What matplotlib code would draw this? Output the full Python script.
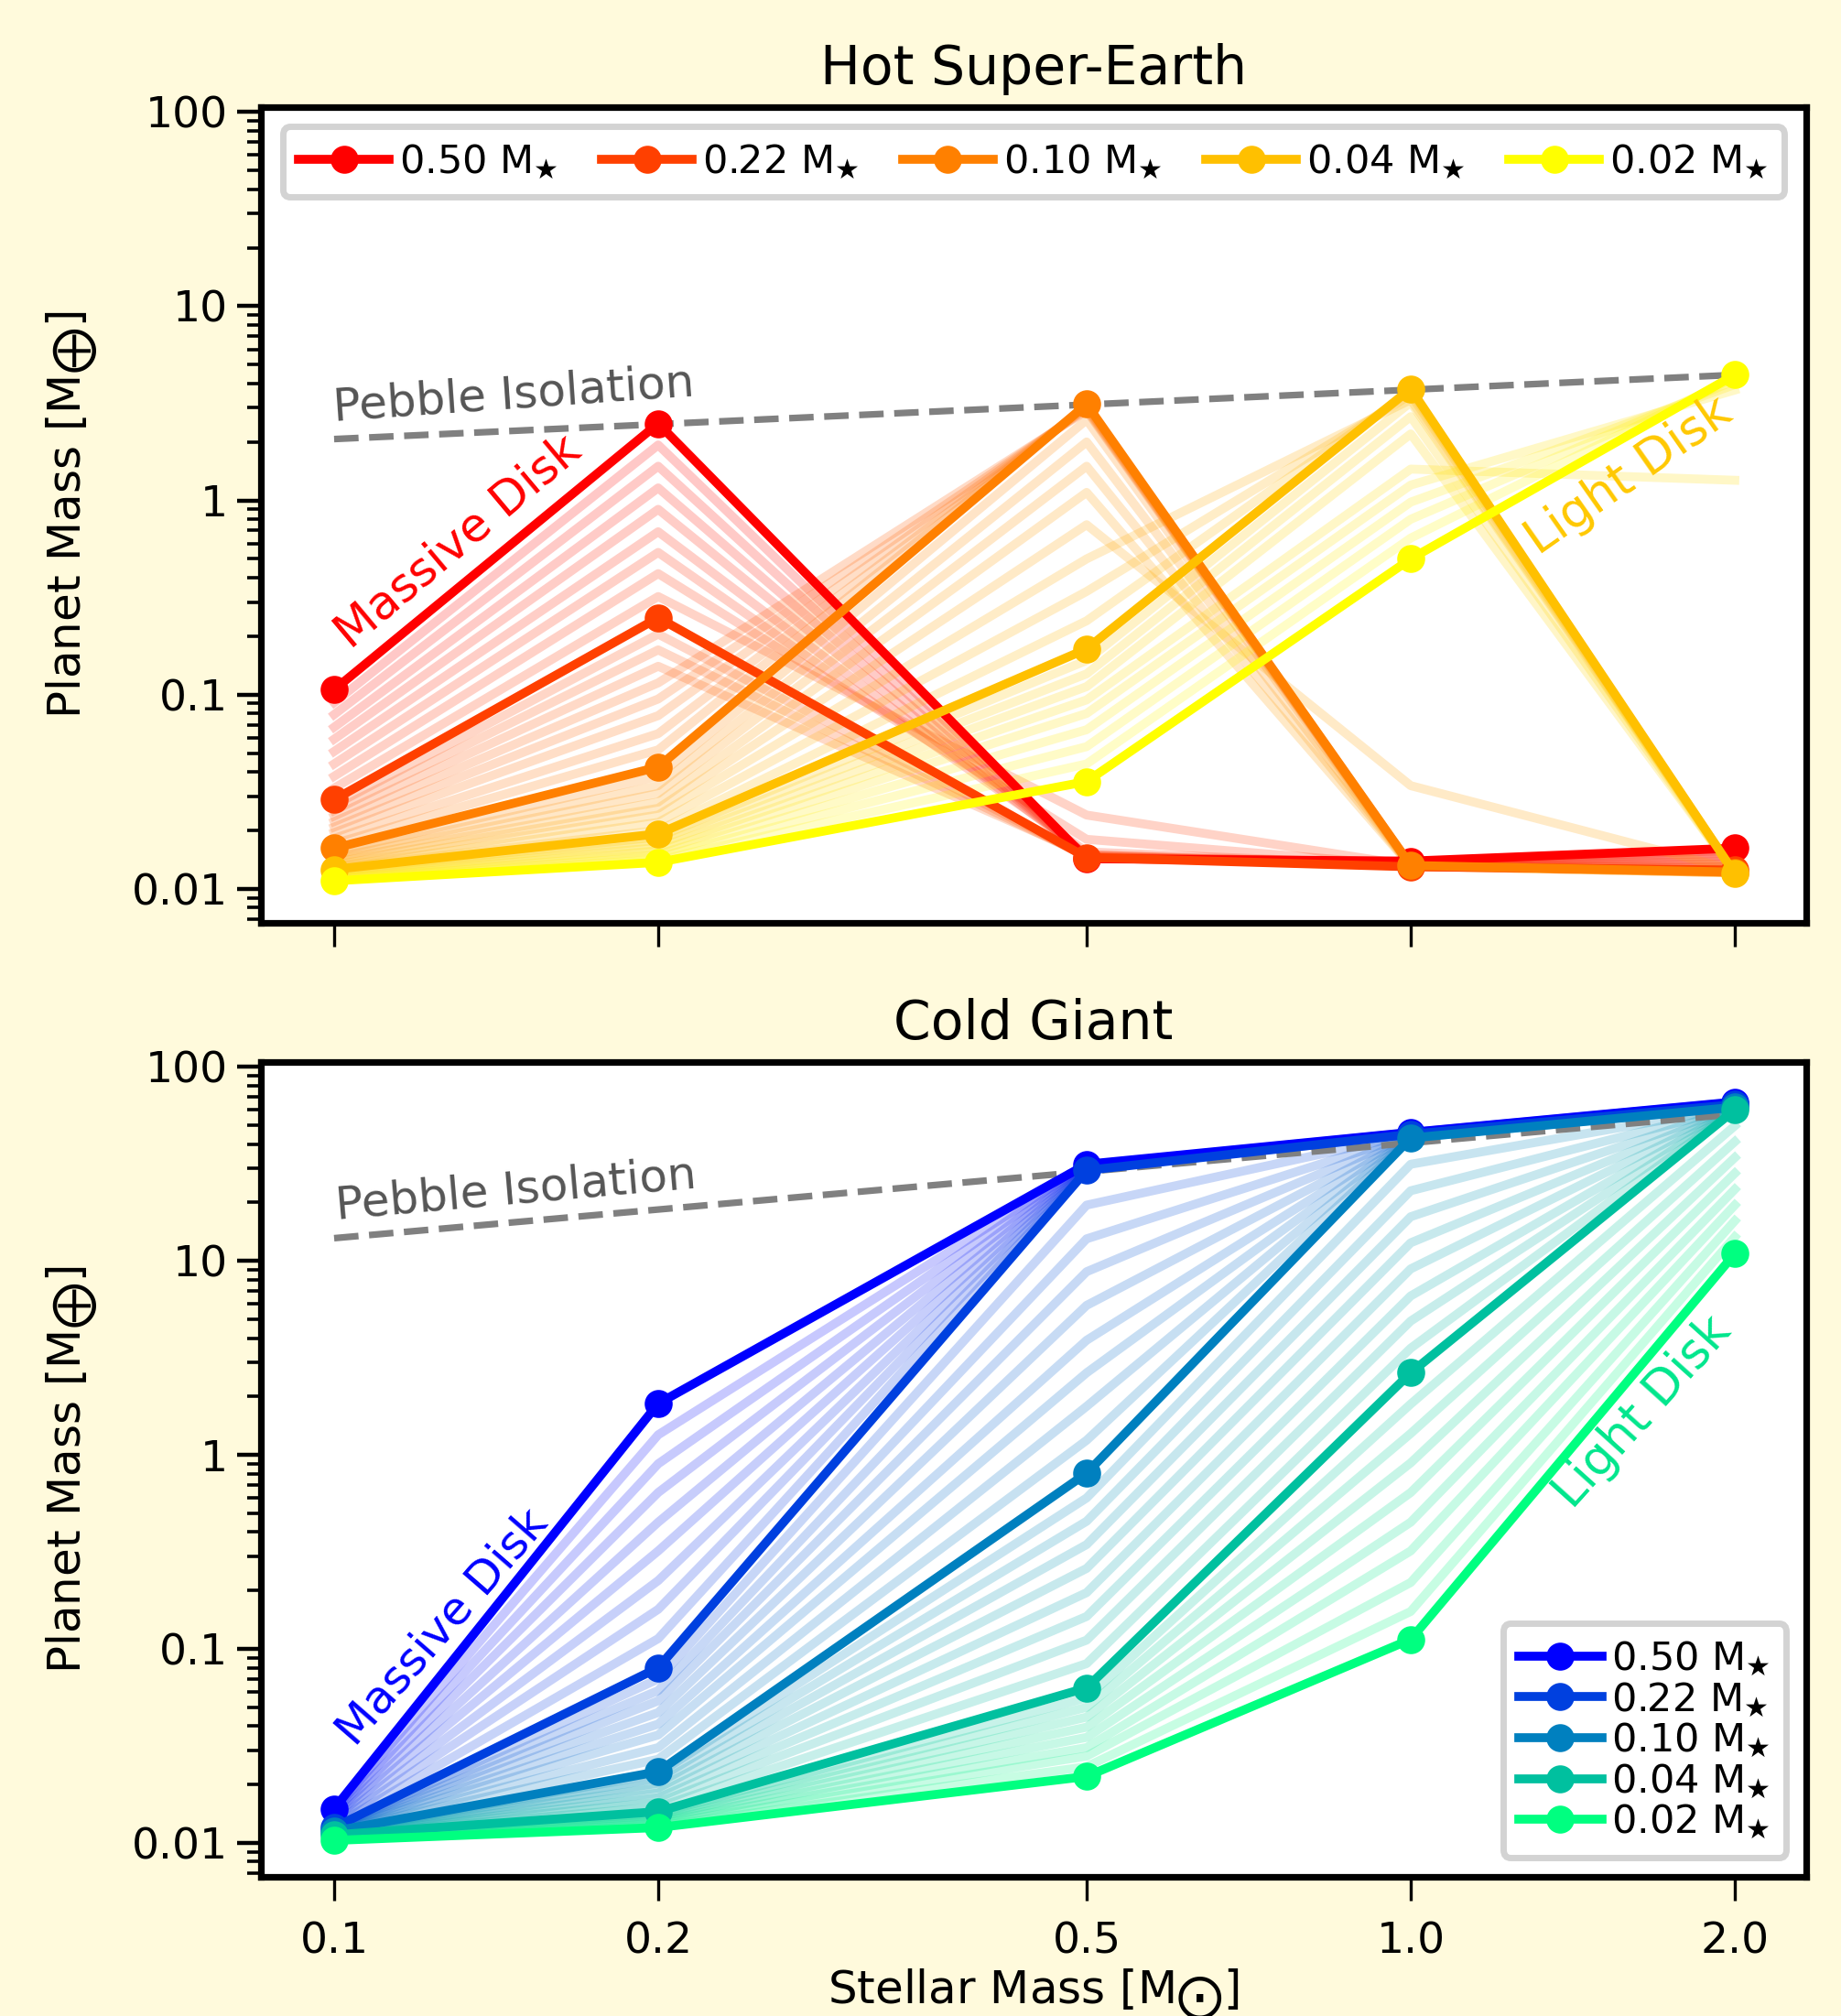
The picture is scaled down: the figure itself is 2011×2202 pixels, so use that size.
import numpy as np
import matplotlib
matplotlib.use("Agg")
import matplotlib.pyplot as plt
from matplotlib.ticker import LogLocator, NullLocator, NullFormatter

# Stellar masses (x) and disk-mass labels
stellar_mass = [0.1, 0.2, 0.5, 1.0, 2.0]
disk_labels = ["0.50", "0.22", "0.10", "0.04", "0.02"]

# Hot Super-Earth: highlighted disk masses
hot_main = [
    [0.106, 2.49, 0.0143, 0.0139, 0.0162],
    [0.0288, 0.249, 0.0145, 0.0130, 0.0125],
    [0.0162, 0.0424, 3.13, 0.0132, 0.0122],
    [0.0126, 0.0192, 0.172, 3.76, 0.0120],
    [0.0110, 0.0137, 0.0357, 0.50, 4.43],
]

# Hot Super-Earth: intermediate disk masses (faint lines), one list per gap
hot_faint_a = [
    [0.091, 1.93, 0.0145, 0.0138, 0.0158],
    [0.079, 1.50, 0.0145, 0.0137, 0.0153],
    [0.068, 1.16, 0.0146, 0.0136, 0.0148],
    [0.059, 0.90, 0.0148, 0.0135, 0.0143],
    [0.051, 0.69, 0.0150, 0.0134, 0.0138],
    [0.044, 0.54, 0.0155, 0.0133, 0.0134],
    [0.038, 0.42, 0.0180, 0.0132, 0.0130],
    [0.033, 0.32, 0.0240, 0.0132, 0.0128],
]
hot_faint_b = [
    [0.0270, 0.205, 0.0146, 0.0131, 0.0124],
    [0.0253, 0.170, 0.0147, 0.0131, 0.0124],
    [0.0237, 0.140, 0.0150, 0.0131, 0.0124],
    [0.0222, 0.115, 2.90, 0.0131, 0.0123],
    [0.0208, 0.095, 2.95, 0.0132, 0.0123],
    [0.0195, 0.078, 3.00, 0.0132, 0.0123],
    [0.0182, 0.063, 3.05, 0.0132, 0.0122],
    [0.0171, 0.052, 3.10, 0.0132, 0.0122],
]
hot_faint_c = [
    [0.0155, 0.038, 2.60, 0.0131, 0.0121],
    [0.0150, 0.034, 2.00, 0.0131, 0.0121],
    [0.0145, 0.031, 1.50, 0.0131, 0.0121],
    [0.0141, 0.028, 1.10, 0.0131, 0.0121],
    [0.0137, 0.026, 0.75, 0.034, 0.0125],
    [0.0133, 0.024, 0.50, 3.30, 0.0121],
    [0.0130, 0.022, 0.34, 3.50, 0.0120],
    [0.0128, 0.020, 0.24, 3.65, 0.0120],
]
hot_faint_d = [
    [0.0124, 0.0185, 0.150, 3.20, 0.0120],
    [0.0122, 0.0178, 0.128, 2.70, 0.0120],
    [0.0120, 0.0170, 0.110, 2.20, 0.0121],
    [0.0118, 0.0163, 0.094, 1.45, 1.27],
    [0.0116, 0.0157, 0.080, 1.20, 3.70],
    [0.0114, 0.0151, 0.066, 0.98, 3.95],
    [0.0113, 0.0146, 0.054, 0.80, 4.15],
    [0.0112, 0.0141, 0.044, 0.64, 4.30],
]

# Cold Giant: highlighted disk masses
cold_main = [
    [0.0150, 1.84, 31.5, 46.0, 66.0],
    [0.0120, 0.080, 29.3, 45.0, 64.0],
    [0.0115, 0.0233, 0.805, 43.0, 62.0],
    [0.0110, 0.0145, 0.063, 2.65, 60.0],
    [0.0103, 0.0120, 0.022, 0.112, 10.9],
]

# Cold Giant: intermediate disk masses
cold_faint_a = [
    [0.0147, 1.27, 31.2, 45.9, 65.8],
    [0.0143, 0.90, 31.0, 45.8, 65.5],
    [0.0140, 0.64, 30.7, 45.7, 65.3],
    [0.0136, 0.45, 30.5, 45.6, 65.0],
    [0.0133, 0.32, 30.2, 45.5, 64.8],
    [0.0129, 0.225, 30.0, 45.4, 64.5],
    [0.0126, 0.160, 29.8, 45.2, 64.3],
    [0.0123, 0.113, 29.5, 45.1, 64.1],
]
cold_faint_b = [
    [0.0119, 0.070, 19.4, 44.8, 63.8],
    [0.0119, 0.061, 13.0, 44.5, 63.5],
    [0.0118, 0.054, 8.8, 44.3, 63.3],
    [0.0118, 0.047, 5.9, 44.0, 63.0],
    [0.0117, 0.041, 3.9, 43.8, 62.8],
    [0.0117, 0.036, 2.65, 43.5, 62.5],
    [0.0116, 0.031, 1.78, 43.3, 62.3],
    [0.0116, 0.027, 1.19, 43.1, 62.1],
]
cold_faint_c = [
    [0.0114, 0.0227, 0.60, 31.5, 61.8],
    [0.0114, 0.0215, 0.455, 23.0, 61.5],
    [0.0113, 0.0203, 0.345, 16.9, 61.3],
    [0.0113, 0.0192, 0.260, 12.4, 61.0],
    [0.0112, 0.0181, 0.195, 9.1, 60.8],
    [0.0111, 0.0171, 0.147, 6.6, 60.6],
    [0.0111, 0.0162, 0.111, 4.9, 60.4],
    [0.0110, 0.0153, 0.084, 3.55, 60.2],
]
cold_faint_d = [
    [0.0109, 0.0142, 0.056, 1.83, 49.7],
    [0.0108, 0.0139, 0.050, 1.29, 41.2],
    [0.0107, 0.0136, 0.0445, 0.91, 34.1],
    [0.0107, 0.0133, 0.0395, 0.64, 28.3],
    [0.0106, 0.0130, 0.035, 0.45, 23.4],
    [0.0105, 0.0128, 0.031, 0.32, 19.4],
    [0.0104, 0.0125, 0.028, 0.22, 16.1],
    [0.0104, 0.0122, 0.0247, 0.156, 13.3],
]

# Pebble isolation mass at the ends of the stellar-mass range
pebble_x = [0.1, 2.0]
hot_pebble = [2.07, 4.43]
cold_pebble = [13.1, 57.0]

BG = "#fffadc"
fig = plt.figure(figsize=(10.055, 11.01), dpi=200, facecolor=BG)
ax_hot = fig.add_axes([0.1417, 0.5422, 0.8394, 0.4047])
ax_cold = fig.add_axes([0.1417, 0.0690, 0.8394, 0.4042])


def draw_panel(ax, main, gaps, pebble, cmap):
    n_gap = len(gaps)
    for g, rows in enumerate(gaps):
        for k, row in enumerate(rows):
            t = (g + (k + 1) / (len(rows) + 1)) / n_gap
            ax.plot(stellar_mass, row, color=cmap(t), alpha=0.22, lw=3.5, zorder=1)
    ax.plot(pebble_x, pebble, color="gray", ls="--", lw=2.6, zorder=2)
    handles = []
    for i, row in enumerate(main):
        h, = ax.plot(stellar_mass, row, color=cmap(i / (len(main) - 1)), lw=3.5,
                     marker="o", ms=10, zorder=3, label=disk_labels[i] + r" M$_\bigstar$")
        handles.append(h)

    ax.set_xscale("log")
    ax.set_yscale("log")
    ax.set_xlim(0.0855, 2.33)
    ax.set_ylim(0.00668, 106)
    ax.set_xticks(stellar_mass)
    ax.set_xticklabels(["0.1", "0.2", "0.5", "1.0", "2.0"])
    ax.xaxis.set_minor_locator(NullLocator())
    ax.set_yticks([0.01, 0.1, 1, 10, 100])
    ax.set_yticklabels(["0.01", "0.1", "1", "10", "100"])
    ax.yaxis.set_minor_locator(LogLocator(base=10, subs=np.arange(2, 10), numticks=100))
    ax.yaxis.set_minor_formatter(NullFormatter())
    ax.tick_params(axis="y", which="major", length=9.5, width=1.6, labelsize=17)
    ax.tick_params(axis="y", which="minor", length=5.5, width=1.3)
    ax.tick_params(axis="x", which="major", length=9.5, width=1.2, labelsize=17, pad=8)
    for s in ax.spines.values():
        s.set_linewidth(2.6)
    ax.set_ylabel(r"Planet Mass [M$_\bigoplus$]", fontsize=18)
    ax.yaxis.set_label_coords(-0.104, 0.5)
    return handles


draw_panel(ax_hot, hot_main, [hot_faint_a, hot_faint_b, hot_faint_c, hot_faint_d],
           hot_pebble, plt.cm.autumn)
draw_panel(ax_cold, cold_main, [cold_faint_a, cold_faint_b, cold_faint_c, cold_faint_d],
           cold_pebble, plt.cm.winter)

ax_hot.tick_params(labelbottom=False)
ax_hot.set_title("Hot Super-Earth", fontsize=21, pad=9)
ax_cold.set_title("Cold Giant", fontsize=21, pad=9)
ax_cold.set_xlabel(r"Stellar Mass [M$_{\bigodot}$]", fontsize=18)
ax_cold.xaxis.set_label_coords(0.5, -0.111)

# annotations
ax_hot.text(0.1, 2.57, "Pebble Isolation", color="#555555", fontsize=18, rotation=4,
            rotation_mode="anchor", ha="left", va="baseline", zorder=4)
ax_cold.text(0.1006, 16.5, "Pebble Isolation", color="#555555", fontsize=18, rotation=5,
             rotation_mode="anchor", ha="left", va="baseline", zorder=4)
ax_hot.text(0.1035, 0.17, "Massive Disk", color="#ff0000", fontsize=18.5, rotation=40,
            rotation_mode="anchor", ha="left", va="baseline", zorder=4)
ax_cold.text(0.1045, 0.031, "Massive Disk", color="#0000ff", fontsize=18, rotation=49,
             rotation_mode="anchor", ha="left", va="baseline", zorder=4)
ax_hot.text(1.315, 0.52, "Light Disk", color="#ffc800", fontsize=19, rotation=35,
            rotation_mode="anchor", ha="left", va="baseline", zorder=4)
ax_cold.text(1.415, 0.52, "Light Disk", color="#00e68c", fontsize=19, rotation=48,
             rotation_mode="anchor", ha="left", va="baseline", zorder=4)

leg1 = ax_hot.legend(loc="upper center", ncol=5, fontsize=15.5, handlelength=2.3,
                     handletextpad=0.25, columnspacing=1.1, framealpha=1,
                     edgecolor="#d3d3d3", borderpad=0.4)
leg1.get_frame().set_linewidth(2.5)
leg2 = ax_cold.legend(loc="lower right", fontsize=15.5, handlelength=2.1,
                      handletextpad=0.25, labelspacing=0.05, framealpha=1,
                      edgecolor="#d3d3d3", borderpad=0.4)
leg2.get_frame().set_linewidth(2.5)

fig.savefig("out.png", dpi=200, facecolor=BG)
